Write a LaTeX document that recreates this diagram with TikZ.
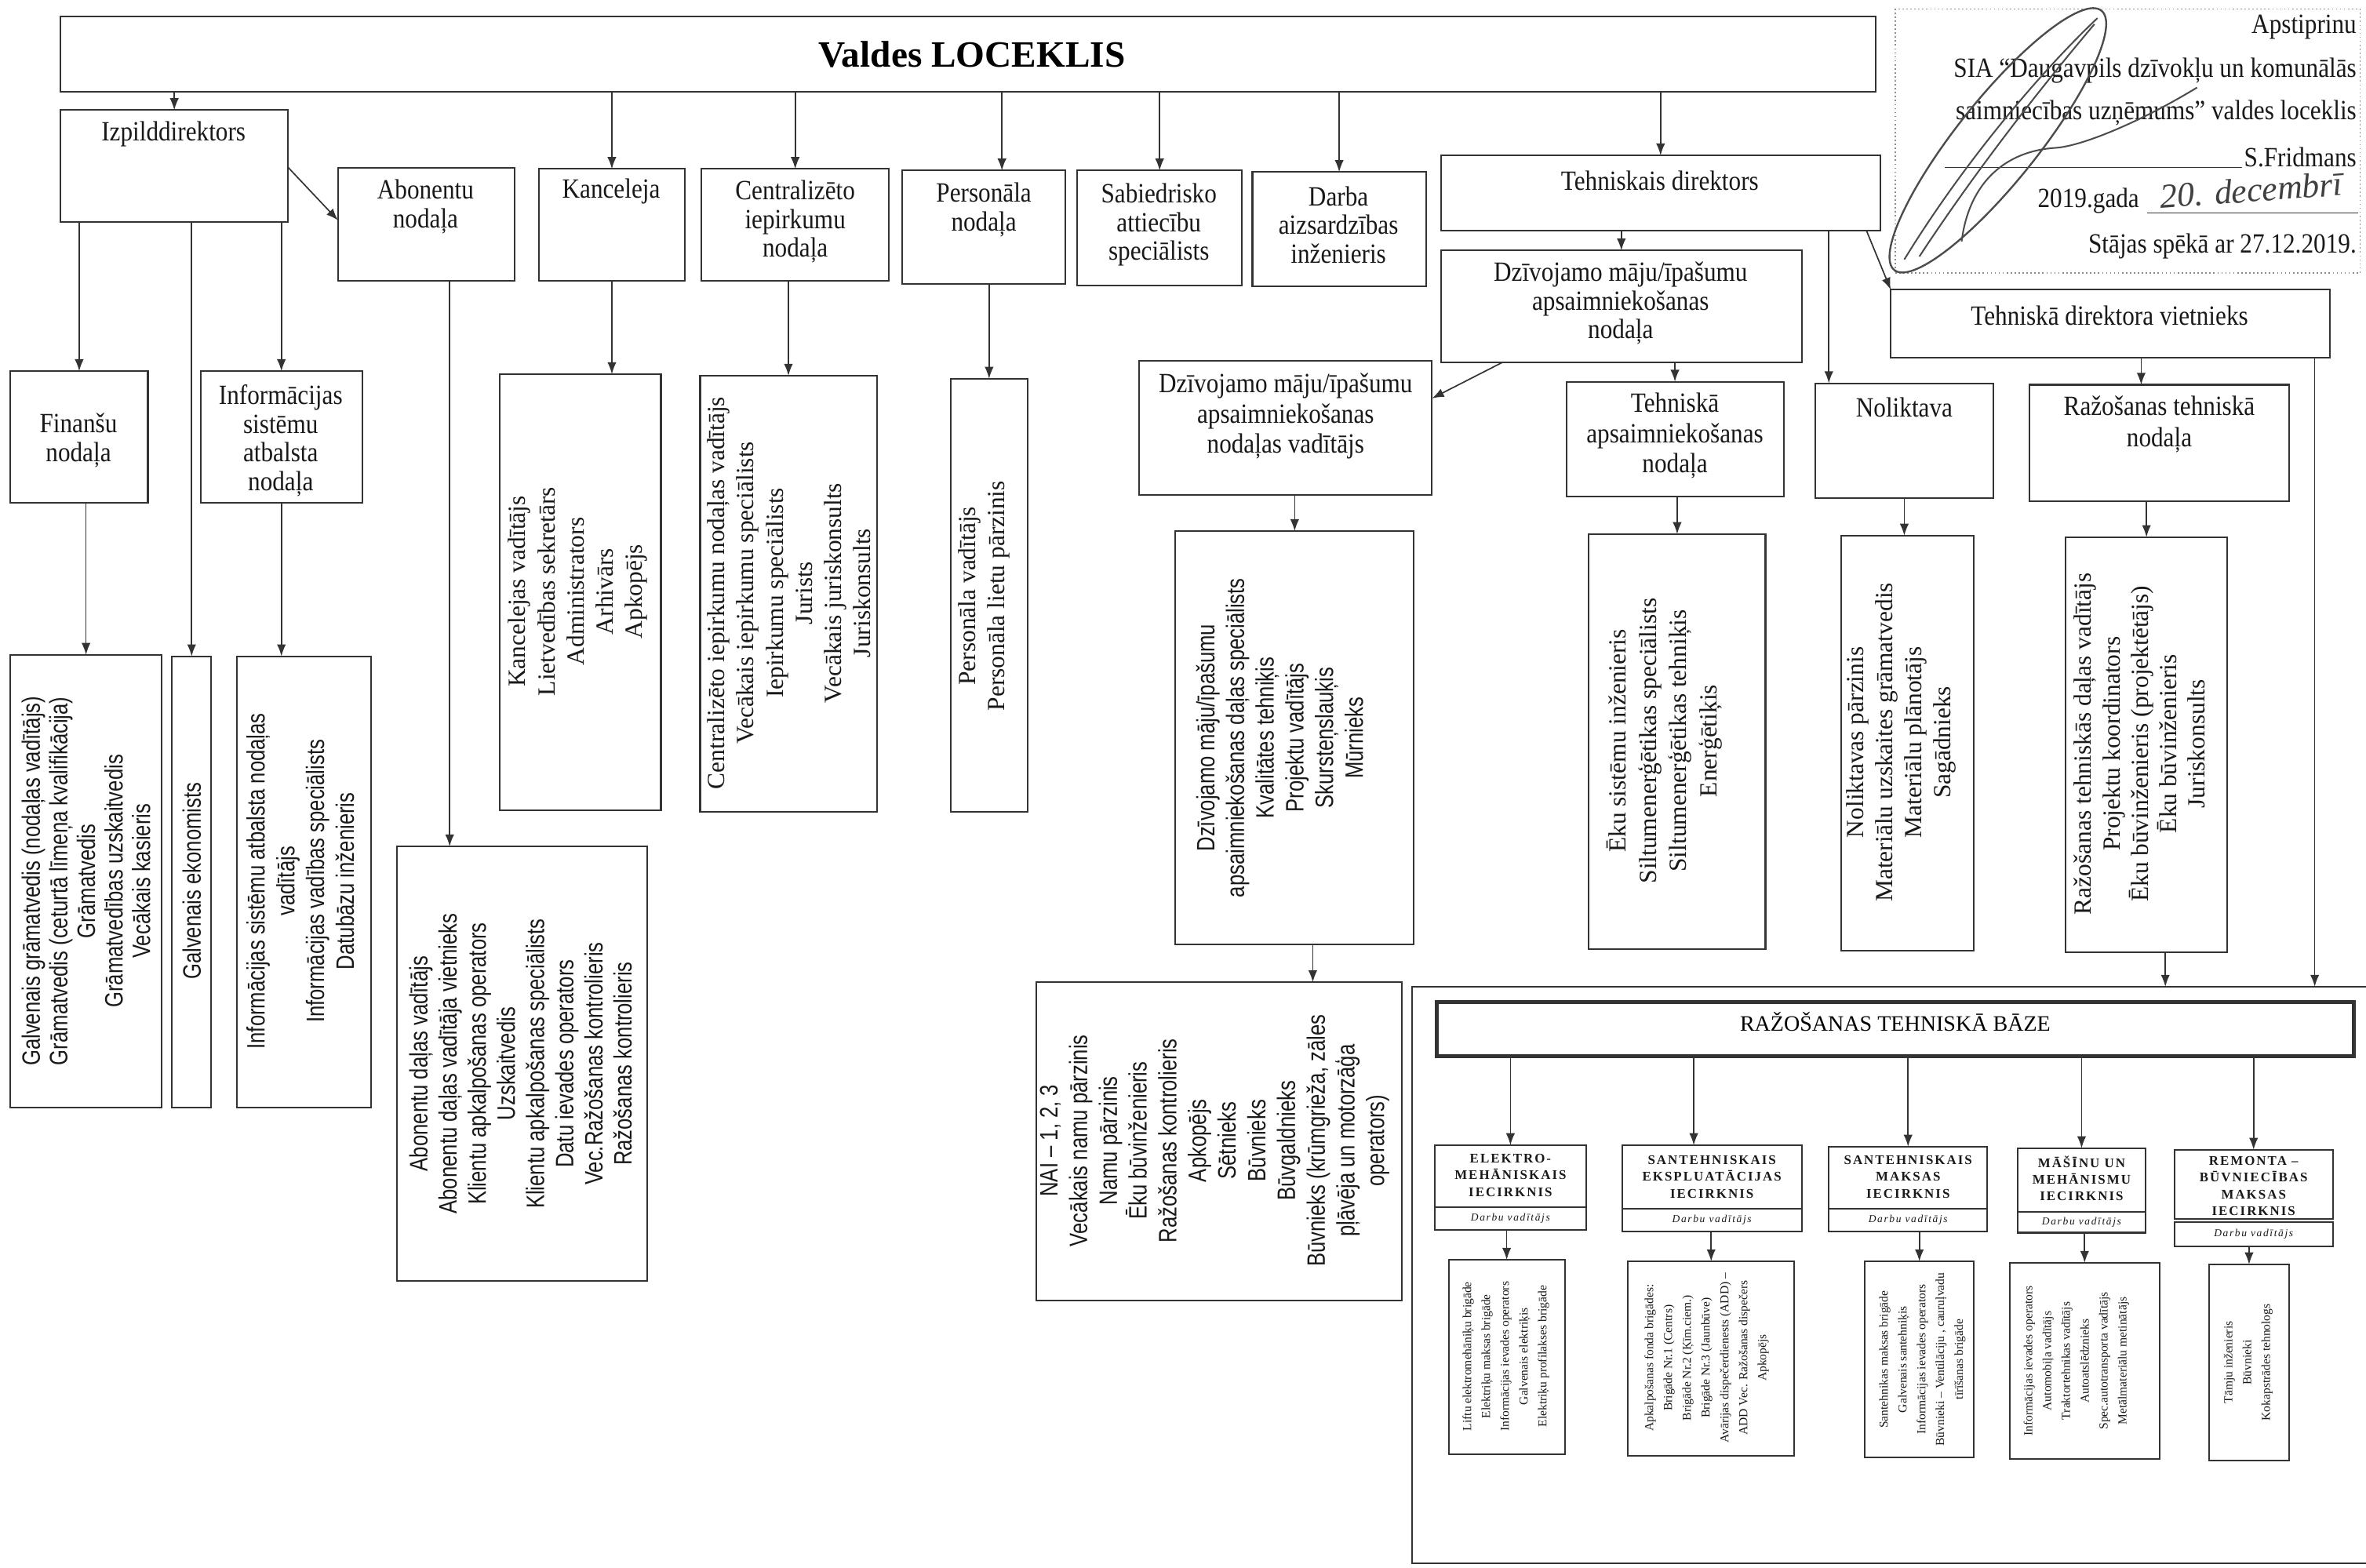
\documentclass[tikz,border=0pt]{standalone}
\usepackage{fontspec}
\setmainfont{Liberation Serif}
\newfontfamily\cond[FakeStretch=0.88]{Liberation Serif}
\newfontfamily\condsans[FakeStretch=0.8]{Liberation Sans}
\newfontfamily\spaced[LetterSpace=12]{Liberation Serif}
\usetikzlibrary{arrows.meta,fit,calc}
\begin{document}
\begin{tikzpicture}[x=0.02cm,y=-0.02cm,
  box/.style={draw=black!80, line width=0.6pt, inner sep=0pt, outer sep=0pt},
  ln/.style={draw=black!80, line width=0.6pt},
  arr/.style={draw=black!80, line width=0.5pt, -{Latex[length=4.5pt,width=3.4pt]}},
  hdr/.style={font=\cond\fontsize{10.5}{10.8}\selectfont, align=center, inner sep=0pt, text=black!90},
  lsans/.style={font=\condsans\fontsize{9.5}{11}\selectfont, align=center, rotate=90, inner sep=0pt, text=black!90},
  lserif/.style={font=\fontsize{9.3}{11}\selectfont, align=center, rotate=90, inner sep=0pt, text=black!90},
  wh/.style={font=\spaced\bfseries\fontsize{5}{6.3}\selectfont, align=center, inner sep=0pt, text=black!90},
  wd/.style={font=\spaced\itshape\fontsize{4}{5}\selectfont, inner sep=0pt, text=black!90},
  wl/.style={font=\fontsize{4.6}{7.1}\selectfont, align=center, rotate=90, inner sep=0pt, text=black!90},
  ap/.style={font=\cond\fontsize{10.5}{12}\selectfont, inner sep=0pt, anchor=east, text=black!90}]
\useasboundingbox (0,0) rectangle (1568,1039);
\fill[white] (0,0) rectangle (1568,1039);

% ---------- top ----------
\node[box, fit={(40,11) (1243,61)}] (vald) {};
\node[font=\bfseries\fontsize{14}{16}\selectfont, inner sep=0pt] (valdT) at (644,36) {Valdes LOCEKLIS};

% ---------- first row ----------
\node[box, fit={(40,73) (191,147)}] (izp) {};
\node[hdr] (izpT) at (115,89) {Izpilddirektors};
\node[box, fit={(224,111) (341,186)}] (abo) {};
\node[hdr] (aboT) at (282,137) {Abonentu\\nodaļa};
\node[box, fit={(357,112) (454,186)}] (kanc) {};
\node[hdr] (kancT) at (405,127) {Kanceleja};
\node[box, fit={(465,112) (589,186)}] (centr) {};
\node[hdr] (centrT) at (527,147) {Centralizēto\\iepirkumu\\nodaļa};
\node[box, fit={(598,113) (706,188)}] (pers) {};
\node[hdr] (persT) at (652,139) {Personāla\\nodaļa};
\node[box, fit={(714,113) (823,189)}] (sab) {};
\node[hdr] (sabT) at (768,149) {Sabiedrisko\\attiecību\\speciālists};
\node[box, fit={(830,114) (945,190)}] (darba) {};
\node[hdr] (darbaT) at (887,149) {Darba\\aizsardzības\\inženieris};
\node[box, fit={(955,103) (1246,153)}] (tdir) {};
\node[hdr] (tdirT) at (1100,120) {Tehniskais direktors};
\node[box, fit={(955,166) (1194,240)}] (dzn) {};
\node[hdr] (dznT) at (1074,201) {Dzīvojamo māju/īpašumu\\apsaimniekošanas\\nodaļa};
\node[box, fit={(1253,192) (1544,237)}] (viet) {};
\node[hdr] (vietT) at (1398,209) {Tehniskā direktora vietnieks};
\node[box, fit={(755,239) (949,328)}] (vad) {};
\node[hdr, font=\cond\fontsize{10.5}{11.4}\selectfont] (vadT) at (852,276) {Dzīvojamo māju/īpašumu\\apsaimniekošanas\\nodaļas vadītājs};
\node[box, fit={(1038,253) (1182,329)}] (tehn) {};
\node[hdr, font=\cond\fontsize{10.5}{11.4}\selectfont] (tehnT) at (1110,289) {Tehniskā\\apsaimniekošanas\\nodaļa};
\node[box, fit={(1203,254) (1321,330)}] (nol) {};
\node[hdr] (nolT) at (1262,270) {Noliktava};
\node[box, fit={(1345,255) (1517,332)}] (razn) {};
\node[hdr, font=\cond\fontsize{10.5}{11.8}\selectfont] (raznT) at (1431,281) {Ražošanas tehniskā\\nodaļa};
\node[box, fit={(7,246) (98,333)}] (fin) {};
\node[hdr] (finT) at (52,292) {Finanšu\\nodaļa};
\node[box, fit={(133,246) (240,333)}] (info) {};
\node[hdr] (infoT) at (186,292) {Informācijas\\sistēmu\\atbalsta\\nodaļa};

% ---------- staff lists ----------
\node[box, fit={(7,434) (107,734)}] (finL) {};
\node[lsans, font=\condsans\fontsize{9.5}{10.4}\selectfont] (finLT) at (57,584) {Galvenais grāmatvedis (nodaļas vadītājs)\\Grāmatvedis (ceturtā līmeņa kvalifikācija)\\Grāmatvedis\\Grāmatvedības uzskaitvedis\\Vecākais kasieris};
\node[box, fit={(114,435) (140,734)}] (ekL) {};
\node[lsans] (ekLT) at (127,584) {Galvenais ekonomists};
\node[box, fit={(157,435) (246,734)}] (infoL) {};
\node[lsans, font=\condsans\fontsize{9.5}{11.2}\selectfont] (infoLT) at (199,584) {Informācijas sistēmu atbalsta nodaļas\\vadītājs\\Informācijas vadības speciālists\\Datubāzu inženieris};
\node[box, fit={(263,561) (429,849)}] (aboL) {};
\node[lsans] (aboLT) at (345,705) {Abonentu daļas vadītājs\\Abonentu daļas vadītāja vietnieks\\Klientu apkalpošanas operators\\Uzskaitvedis\\Klientu apkalpošanas speciālists\\Datu ievades operators\\Vec.Ražošanas kontrolieris\\Ražošanas kontrolieris};
\node[box, fit={(331,248) (438,537)}] (kancL) {};
\node[lserif] (kancLT) at (383,392) {Kancelejas vadītājs\\Lietvedības sekretārs\\Administrators\\Arhivārs\\Apkopējs};
\node[box, fit={(464,249) (581,538)}] (centrL) {};
\node[lserif] (centrLT) at (523,393) {Centralizēto iepirkumu nodaļas vadītājs\\Vecākais iepirkumu speciālists\\Iepirkumu speciālists\\Jurists\\Vecākais juriskonsults\\Juriskonsults};
\node[box, fit={(630,251) (681,538)}] (persL) {};
\node[lserif] (persLT) at (652,395) {Personāla vadītājs\\Personāla lietu pārzinis};
\node[box, fit={(779,352) (937,626)}] (vadL) {};
\node[lsans, font=\condsans\fontsize{9.5}{11.2}\selectfont] (vadLT) at (848,489) {Dzīvojamo māju/īpašumu\\apsaimniekošanas daļas speciālists\\Kvalitātes tehniķis\\Projektu vadītājs\\Skursteņslauķis\\Mūrnieks};
\node[box, fit={(687,651) (929,862)}] (naiL) {};
\node[lsans, font=\condsans\fontsize{9.5}{11.2}\selectfont] (naiLT) at (805,756) {NAI – 1, 2, 3\\Vecākais namu pārzinis\\Namu pārzinis\\Ēku būvinženieris\\Ražošanas kontrolieris\\Apkopējs\\Sētnieks\\Būvnieks\\Būvgaldnieks\\Būvnieks (krūmgrieža, zāles\\pļāvēja un motorzāģa\\operators)};
\node[box, fit={(1053,354) (1170,629)}] (tehnL) {};
\node[lserif, font=\fontsize{9.3}{11.4}\selectfont] (tehnLT) at (1103,491) {Ēku sistēmu inženieris\\Siltumenerģētikas speciālists\\Siltumenerģētikas tehniķis\\Enerģētiķis};
\node[box, fit={(1220,355) (1308,630)}] (nolL) {};
\node[lserif] (nolLT) at (1260,492) {Noliktavas pārzinis\\Materiālu uzskaites grāmatvedis\\Materiālu plānotājs\\Sagādnieks};
\node[box, fit={(1369,356) (1476,631)}] (razL) {};
\node[lserif, font=\fontsize{9.3}{10.7}\selectfont] (razLT) at (1418,493) {Ražošanas tehniskās daļas vadītājs\\Projektu koordinators\\Ēku būvinženieris (projektētājs)\\Ēku būvinženieris\\Juriskonsults};

% ---------- production base ----------
\node[box, fit={(936,654) (1590,1036)}] (bazeF) {};
\node[box, line width=1.4pt, fit={(952,664) (1560,700)}] (baze) {};
\node[font=\fontsize{8.3}{10}\selectfont, inner sep=0pt] (bazeT) at (1256,677) {RAŽOŠANAS TEHNISKĀ BĀZE};

\node[box, fit={(951,759) (1051,815)}] (w1) {};
\draw[ln] ($(w1.north west)+(0,41)$) -- ($(w1.north east)+(0,41)$);
\node[wh] (w1T) at ($(w1.north)+(0,20)$) {ELEKTRO-\\MEHĀNISKAIS\\IECIRKNIS};
\node[wd] (w1D) at ($(w1.south)+(0,-7.5)$) {Darbu vadītājs};

\node[box, fit={(1075,759) (1194,816)}] (w2) {};
\draw[ln] ($(w2.north west)+(0,42)$) -- ($(w2.north east)+(0,42)$);
\node[wh] (w2T) at ($(w2.north)+(0,21)$) {SANTEHNISKAIS\\EKSPLUATĀCIJAS\\IECIRKNIS};
\node[wd] (w2D) at ($(w2.south)+(0,-7.5)$) {Darbu vadītājs};

\node[box, fit={(1212,760) (1317,816)}] (w3) {};
\draw[ln] ($(w3.north west)+(0,41)$) -- ($(w3.north east)+(0,41)$);
\node[wh] (w3T) at ($(w3.north)+(0,20)$) {SANTEHNISKAIS\\MAKSAS\\IECIRKNIS};
\node[wd] (w3D) at ($(w3.south)+(0,-7.5)$) {Darbu vadītājs};

\node[box, fit={(1337,761) (1422,817)}] (w4) {};
\draw[ln] ($(w4.north west)+(0,42)$) -- ($(w4.north east)+(0,42)$);
\node[wh] (w4T) at ($(w4.north)+(0,20)$) {MĀŠĪNU UN\\MEHĀNISMU\\IECIRKNIS};
\node[wd] (w4D) at ($(w4.south)+(0,-7)$) {Darbu vadītājs};

\node[box, fit={(1441,762) (1546,808)}] (w5) {};
\node[box, fit={(1441,810) (1546,826)}] (w5d) {};
\node[wh] (w5T) at (1493.5,786) {REMONTA –\\BŪVNIECĪBAS\\MAKSAS\\IECIRKNIS};
\node[wd] (w5D) at (w5d.center) {Darbu vadītājs};

\node[box, fit={(960,835) (1037,964)}] (wl1) {};
\node[wl] (wl1T) at (998,899) {Liftu elektromehāniķu brigāde\\Elektriķu maksas brigāde\\Informācijas ievades operators\\Galvenais elektriķis\\Elektriķu profilakses brigāde};
\node[box, fit={(1079,836) (1189,965)}] (wl2) {};
\node[wl] (wl2T) at (1131,900) {Apkalpošanas fonda brigādes:\\Brigāde Nr.1 (Centrs)\\Brigāde Nr.2 (Ķīm.ciem.)\\Brigāde Nr.3 (Jaunbūve)\\Avārijas dispečerdienests (ADD) –\\ADD Vec. Ražošanas dispečers\\Apkopējs};
\node[box, fit={(1236,836) (1308,966)}] (wl3) {};
\node[wl] (wl3T) at (1274,901) {Santehnikas maksas brigāde\\Galvenais santehniķis\\Informācijas ievades operators\\Būvnieki – Ventilāciju , cauruļvadu\\tīrīšanas brigāde};
\node[box, fit={(1332,837) (1431,967)}] (wl4) {};
\node[wl] (wl4T) at (1376,902) {Informācijas ievades operators\\Automobiļa vadītājs\\Traktortehnikas vadītājs\\Autoatslēdznieks\\Spec.autotransporta vadītājs\\Metālmateriālu metinātājs};
\node[box, fit={(1464,838) (1517,968)}] (wl5) {};
\node[wl] (wl5T) at (1490,903) {Tāmju inženieris\\Būvnieki\\Kokapstrādes tehnologs};

% ---------- approval stamp ----------
\node[draw=black!45, densely dotted, line width=0.5pt, inner sep=0pt, fit={(1256,6) (1564,181)}] (stamp) {};
\node[ap] (ap1) at (1562,18) {Apstiprinu};
\node[ap] (ap2) at (1562,47) {SIA “Daugavpils dzīvokļu un komunālās};
\node[ap] (ap3) at (1562,75) {saimniecības uzņēmums” valdes loceklis};
\node[ap] (ap4) at (1562,104) {S.Fridmans};
\node[ap] (ap5) at (1418,133) {2019.gada};
\node[ap] (ap6) at (1562,163) {Stājas spēkā ar 27.12.2019.};
\draw[black!80, line width=0.4pt] (1289,111) -- (1486,111);
\draw[black!80, line width=0.4pt] (1423,141) -- (1563,141);
\node[font=\itshape\fontsize{13}{14}\selectfont, text=black!75, rotate=4, inner sep=0pt] (date) at (1492,126) {20. decembrī};
\draw[black!70, line width=0.7pt, rotate around={51.4:(1324,93)}] (1324,93) ellipse (110 and 27);
\draw[black!70, line width=0.6pt] (1262,172) .. controls (1300,110) and (1350,50) .. (1390,12);
\draw[black!70, line width=0.6pt] (1272,170) .. controls (1310,112) and (1355,55) .. (1388,16);
\draw[black!70, line width=0.6pt] (1300,160) .. controls (1305,120) and (1330,100) .. (1362,98) .. controls (1380,97) and (1420,80) .. (1456,58);

% ---------- connectors ----------
\coordinate (pA) at ($(pers.north)+(12,0)$);
\coordinate (aA) at ($(aboL.north west)+(35,0)$);
\coordinate (nA) at ($(nol.north west)+(9,0)$);
\coordinate (rA) at ($(razn.north)+(-12,0)$);
\coordinate (fA) at ($(bazeF.north west)+(598,0)$);
\coordinate (fB) at ($(bazeF.north west)+(499,0)$);
\coordinate (naA) at ($(naiL.north west)+(183,0)$);
\coordinate (w2A) at ($(w2.north)+(-12,0)$);

\draw[arr] (vald.south -| izp.north) -- (izp.north);
\draw[arr] (vald.south -| kanc.north) -- (kanc.north);
\draw[arr] (vald.south -| centr.north) -- (centr.north);
\draw[arr] (vald.south -| pA) -- (pA);
\draw[arr] (vald.south -| sab.north) -- (sab.north);
\draw[arr] (vald.south -| darba.north) -- (darba.north);
\draw[arr] (vald.south -| tdir.north) -- (tdir.north);

\draw[arr] ($(izp.north east)+(0,38)$) -- ($(abo.north west)+(0,35)$);
\draw[arr] (izp.south -| fin.north) -- (fin.north);
\draw[arr] (izp.south -| ekL.north) -- (ekL.north);
\draw[arr] (izp.south -| info.north) -- (info.north);
\draw[arr] (fin.south -| finL.north) -- (finL.north);
\draw[arr] (info.south) -- (info.south |- infoL.north);
\draw[arr] (abo.south -| aA) -- (aA);
\draw[arr] (kanc.south) -- (kanc.south |- kancL.north);
\draw[arr] (centr.south -| centrL.north) -- (centrL.north);
\draw[arr] (pers.south -| persL.north) -- (persL.north);

\draw[arr] (tdir.south -| dzn.north) -- (dzn.north);
\draw[arr] (tdir.south -| nA) -- (nA);
\draw[arr] ($(tdir.south east)+(-9,0)$) -- (viet.north west);
\draw[arr] ($(dzn.south west)+(41,0)$) -- ($(vad.north east)+(0,25)$);
\draw[arr] (dzn.south -| tehn.north) -- (tehn.north);
\draw[arr] (viet.south -| rA) -- (rA);
\draw[arr] (viet.south -| fA) -- (fA);
\draw[arr] (vad.south -| vadL.north) -- (vadL.north);
\draw[arr] (tehn.south -| tehnL.north) -- (tehnL.north);
\draw[arr] (nol.south) -- (nol.south |- nolL.north);
\draw[arr] (razn.south -| razL.north) -- (razL.north);
\draw[arr] (vadL.south -| naA) -- (naA);
\draw[arr] (razL.south -| fB) -- (fB);

\draw[arr] (baze.south -| w1.north) -- (w1.north);
\draw[arr] (baze.south -| w2A) -- (w2A);
\draw[arr] (baze.south -| w3.north) -- (w3.north);
\draw[arr] (baze.south -| w4.north) -- (w4.north);
\draw[arr] (baze.south -| w5.north) -- (w5.north);
\draw[arr] (w1.south -| wl1.north) -- (wl1.north);
\draw[arr] (w2.south -| wl2.north) -- (wl2.north);
\draw[arr] (w3.south -| wl3.north) -- (wl3.north);
\draw[arr] (w4.south -| wl4.north) -- (wl4.north);
\draw[arr] (w5d.south -| wl5.north) -- (wl5.north);
\end{tikzpicture}
\end{document}
